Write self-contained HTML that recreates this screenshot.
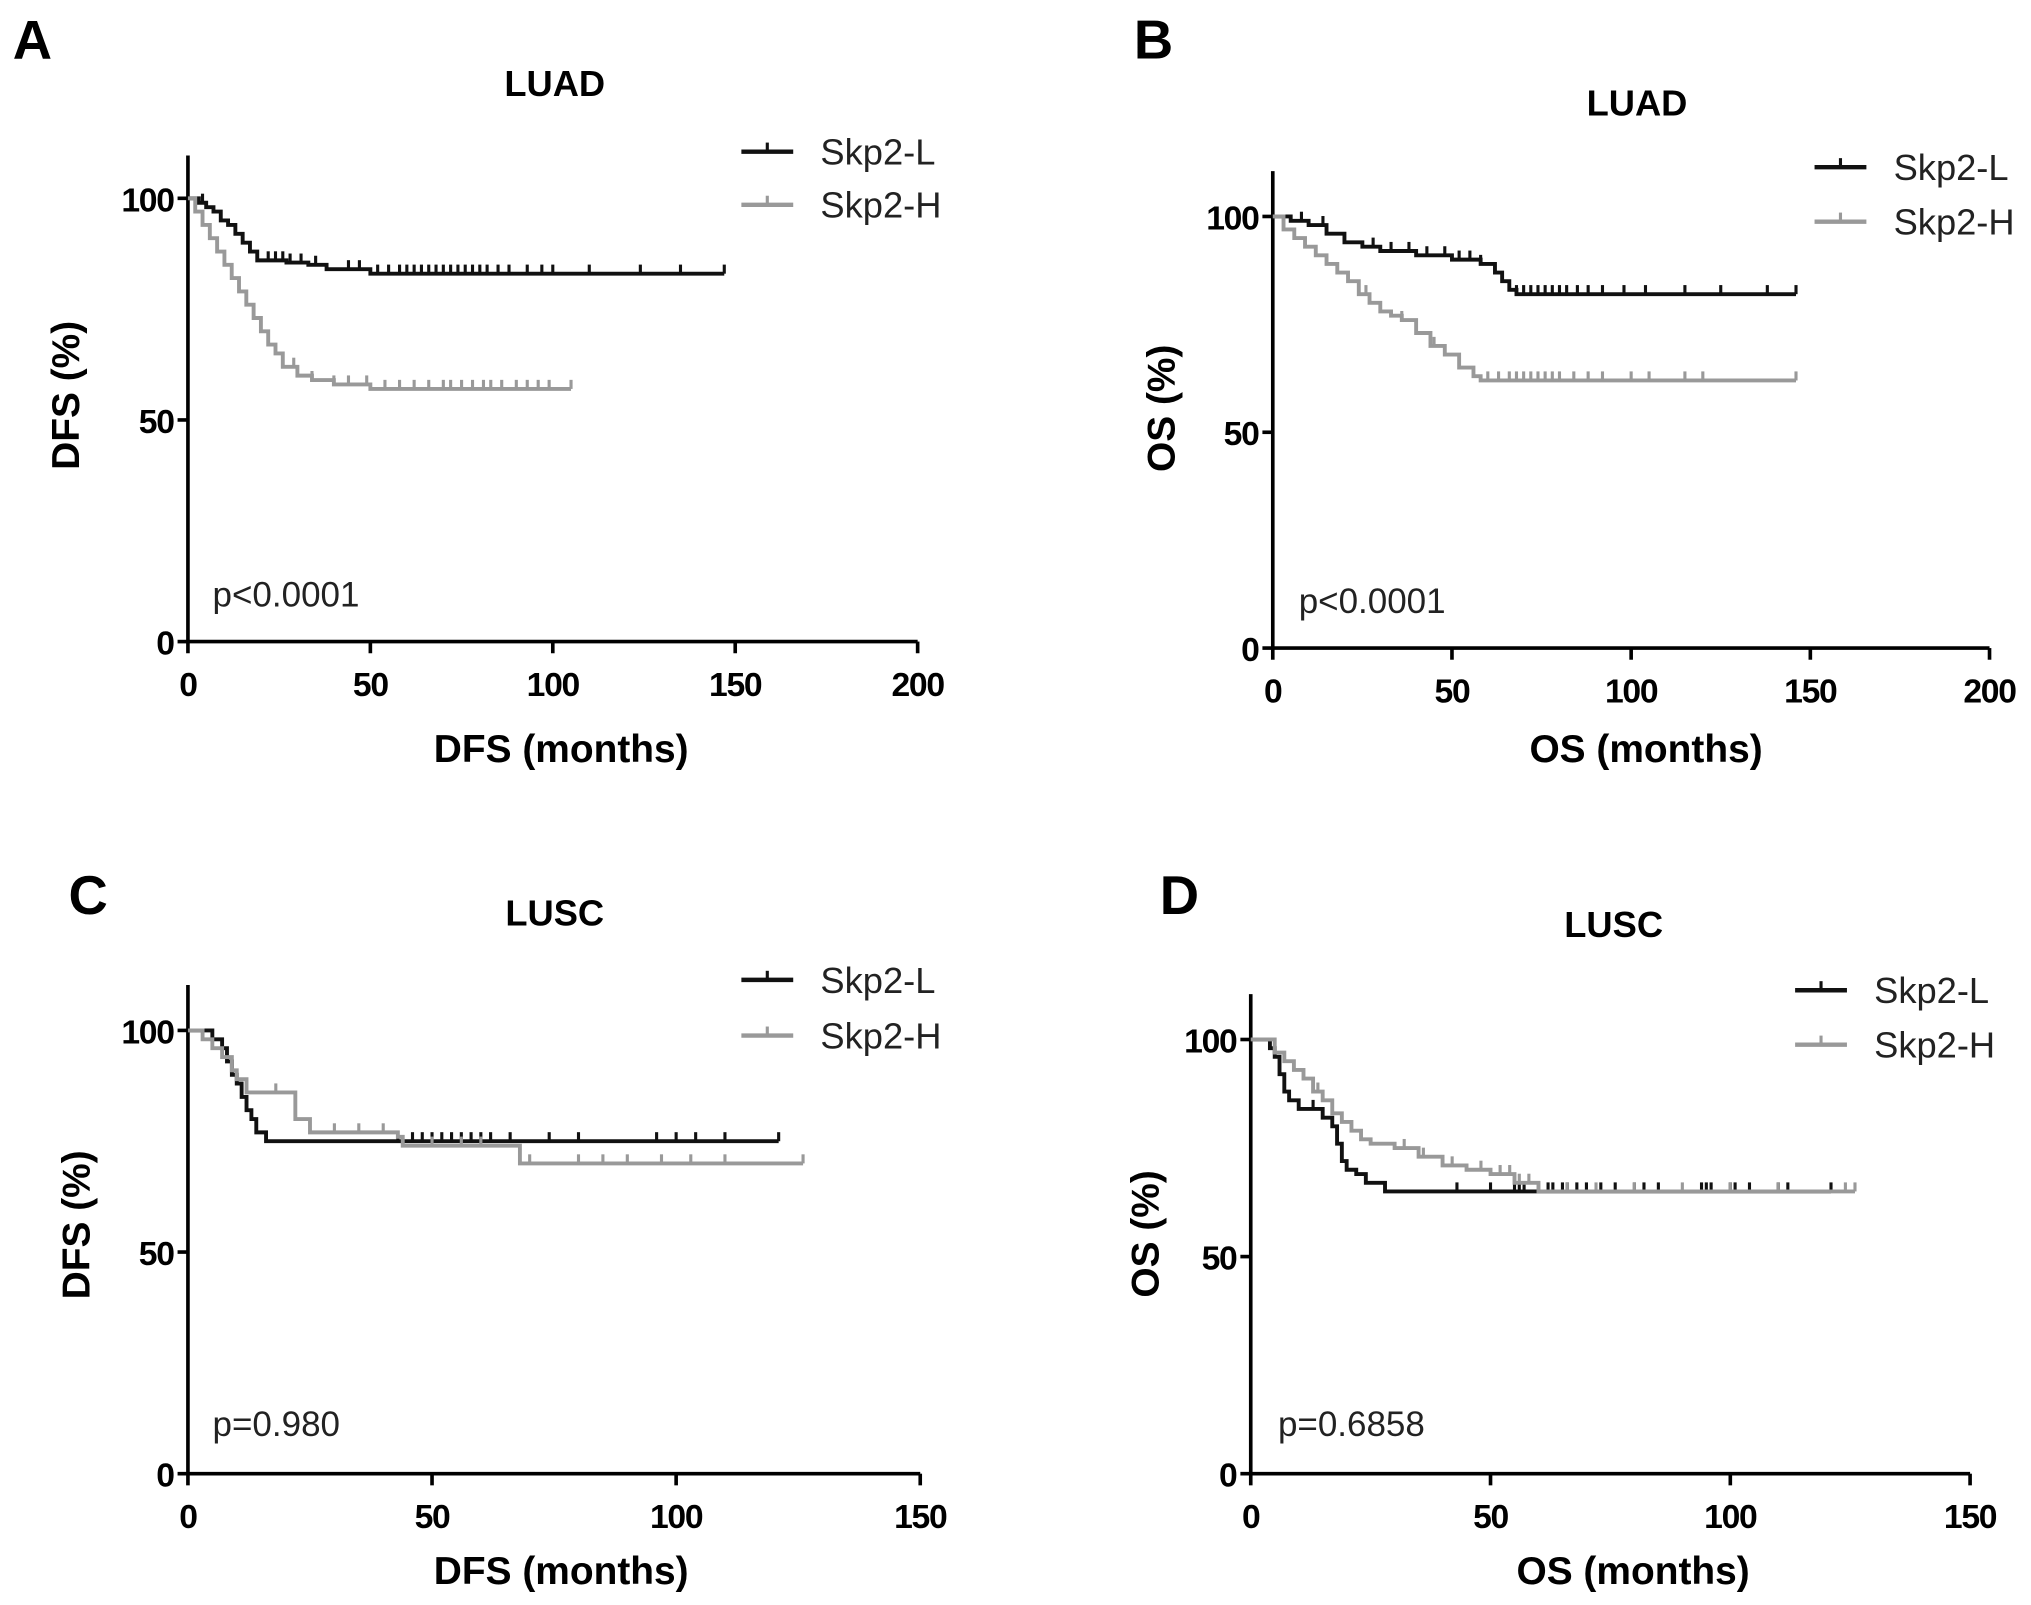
<!DOCTYPE html>
<html><head><meta charset="utf-8"><style>
html,body{margin:0;padding:0;background:#fff;}
svg{display:block;font-family:"Liberation Sans",Arial,sans-serif;}
</style></head><body>
<svg id="fig" width="2031" height="1605" viewBox="0 0 1567 1238.3" xmlns="http://www.w3.org/2000/svg"></svg>
<script>
// ---- data ----
const aL_t=[0,3,5,7,9,11,13,15,17,19,22,27,33,38,50,120];
const aL_s=[100,99,98,97,95,94,92,90,88,86,86,85.5,85,84,83,83];
const aL_end=147;
const aL_c=[4,9,22,24,26,28,31,35,44,47,52,55,58,60,62,64,66,68,70,72,74,76,78,80,82,85,88,93,97,100,110,124,135,147];
const aH_t=[0,2,4,6,8,10,12,14,16,18,20,22,24,26,30,34,40,50];
const aH_s=[100,97,94,91,88,85,82,79,76,73,70,67,65,62,60,59,58,57];
const aH_end=105;
const aH_c=[29,34,40,44,49,54,58,62,66,70,72,75,78,81,83,86,90,93,96,99,105];
const bL_t=[0,5,10,15,20,25,30,40,50,58,62,64,66,68];
const bL_s=[100,99,98,96,94,93,92,91,90,89,87,85,83,82];
const bL_end=146;
const bL_c=[8,14,20,28,33,38,43,48,52,55,58,68,70,72,74,76,78,80,82,85,88,92,98,104,115,125,138,146];
const bH_t=[0,3,6,9,12,15,18,21,24,27,30,33,36,40,44,48,52,56,58];
const bH_s=[100,97,95,93,91,89,87,85,82,80,78,77,76,73,70,68,65,63,62];
const bH_end=146;
const bH_c=[26,36,45,60,63,66,68,70,72,74,76,78,80,84,88,92,100,105,115,120,146];
const cL_t=[0,5,7,8,9,10,11,12,13,14,16];
const cL_s=[100,98,96,93,90,88,85,82,80,77,75];
const cL_end=121;
const cL_c=[12,43,46,48,50,52,54,56,58,60,62,66,74,80,96,100,104,110,121];
const cH_t=[0,3,5,7,9,10,12,20,22,25,43,44,68];
const cH_s=[100,98,96,94,91,89,86,86,80,77,76,74,70];
const cH_end=126;
const cH_c=[18,30,35,40,50,56,60,70,80,85,90,97,103,110,126];
const dL_t=[0,4,5,6,7,8,10,13,15,17,18,19,20,22,24,28];
const dL_s=[100,98,96,92,88,86,84,84,82,80,76,72,70,69,67,65];
const dL_end=121;
const dL_c=[13,28,43,50,55,56,57,60,62,63,65,66,68,70,73,76,80,82,85,94,95,96,100,101,104,110,112,121];
const dH_t=[0,5,7,9,11,13,15,17,19,21,23,25,30,35,40,45,50,55,60];
const dH_s=[100,97,95,93,91,88,86,83,81,79,77,76,75,73,71,70,69,67,65];
const dH_end=126;
const dH_c=[7,11,14,32,36,42,48,52,54,56,58,60,66,72,80,90,100,110,124,126];

const NS="http://www.w3.org/2000/svg";
const svg=document.getElementById('fig');
function el(tag,attrs,parent){const e=document.createElementNS(NS,tag);for(const k in attrs)e.setAttribute(k,attrs[k]);(parent||svg).appendChild(e);return e;}
function txt(s,attrs,parent){const e=el('text',attrs,parent);e.textContent=s;return e;}

function panel(p){
  const g=el('g',{});
  
  
  const sx=v=>p.x0+(v/p.xmax)*(p.x1-p.x0);
  const sy=v=>p.y0-(v/100)*(p.y0-p.y100);
  const t1=txt(p.letter,{x:p.lx,y:p.ly,'font-size':42,'font-weight':'bold','text-anchor':'middle'},g);
  
  
  const t2=txt(p.title,{x:p.tx,y:p.ty,'font-size':28,'font-weight':'bold','text-anchor':'middle'},g);
  
  
  const ax=el('path',{d:`M${p.x0},${p.ytop} V${p.y0} H${p.x1}`,stroke:'#000','stroke-width':2.8,fill:'none'},g);
  
  
  [0,50,100].forEach(v=>{
    el('line',{x1:p.x0-8,x2:p.x0,y1:sy(v),y2:sy(v),stroke:'#000','stroke-width':2.8},g);
    const t=txt(String(v),{x:p.x0-11,y:sy(v)+10,'font-size':26,'font-weight':'bold','text-anchor':'end','letter-spacing':'-1'},g);
    
    
  });
  p.xticks.forEach(v=>{
    el('line',{x1:sx(v),x2:sx(v),y1:p.y0,y2:p.y0+9,stroke:'#000','stroke-width':2.8},g);
    const t=txt(String(v),{x:sx(v),y:p.y0+42,'font-size':26,'font-weight':'bold','text-anchor':'middle','letter-spacing':'-1'},g);
    
    
  });
  const xt=txt(p.xlabel,{x:p.xlx,y:p.xly,'font-size':30,'font-weight':'bold','text-anchor':'middle','xml:space':'preserve'},g);
  
  
  const yt=txt(p.ylabel,{x:0,y:0,'font-size':30,'font-weight':'bold','text-anchor':'middle',transform:`translate(${p.ylx},${p.yly}) rotate(-90)`},g);
  
  
  const pt=txt(p.pval,{x:p.px,y:p.py,'font-size':27,fill:'#222'},g);
  
  
  p.series.forEach((s,i)=>{
    const sv=t=>{let v=s.s[0];for(let k=0;k<s.t.length;k++){if(s.t[k]<=t)v=s.s[k];}return v;};
    let d=`M${sx(0)},${sy(s.s[0])}`;
    for(let k=1;k<s.t.length;k++){d+=` H${sx(s.t[k])} V${sy(s.s[k])}`;}
    d+=` H${sx(s.end)}`;
    const path=el('path',{d:d,stroke:s.col,'stroke-width':3,fill:'none'},g);
    
    
    s.c.forEach(c=>{
      const m=el('line',{x1:sx(c),x2:sx(c),y1:sy(sv(c))-7,y2:sy(sv(c)),stroke:s.col,'stroke-width':2.4},g);
      
      
    });
    const ly=p.legy[i];
    const lg=el('g',{},g);
    
    
    el('line',{x1:p.legx,x2:p.legx+40,y1:ly,y2:ly,stroke:s.col,'stroke-width':3.4},lg);
    el('line',{x1:p.legx+20,x2:p.legx+20,y1:ly-7,y2:ly,stroke:s.col,'stroke-width':2.4},lg);
    txt(s.name,{x:p.legx+61,y:ly+10,'font-size':28,fill:'#222'},lg);
  });
}
const BLK='#111', GRY='#999';
panel({id:'a',letter:'A',lx:25,ly:45,title:'LUAD',tx:428,ty:74,x0:145,x1:708,y0:495,y100:153,ytop:120,xmax:200,xticks:[0,50,100,150,200],
  xlabel:'DFS  (months)',xlx:433,xly:588,ylabel:'DFS (%)',ylx:61,yly:305,pval:'p<0.0001',px:164,py:468,legx:572,legy:[117,158],
  series:[{name:'Skp2-L',col:BLK,t:aL_t,s:aL_s,end:aL_end,c:aL_c},{name:'Skp2-H',col:GRY,t:aH_t,s:aH_s,end:aH_end,c:aH_c}]});
panel({id:'b',letter:'B',lx:890,ly:45,title:'LUAD',tx:1263,ty:89,x0:982,x1:1535,y0:500,y100:167,ytop:132,xmax:200,xticks:[0,50,100,150,200],
  xlabel:'OS (months)',xlx:1270,xly:588,ylabel:'OS (%)',ylx:906,yly:315,pval:'p<0.0001',px:1002,py:473,legx:1400,legy:[129,171],
  series:[{name:'Skp2-L',col:BLK,t:bL_t,s:bL_s,end:bL_end,c:bL_c},{name:'Skp2-H',col:GRY,t:bH_t,s:bH_s,end:bH_end,c:bH_c}]});
panel({id:'c',letter:'C',lx:68,ly:705,title:'LUSC',tx:428,ty:714,x0:145,x1:710,y0:1137,y100:795,ytop:760,xmax:150,xticks:[0,50,100,150],
  xlabel:'DFS  (months)',xlx:433,xly:1222,ylabel:'DFS (%)',ylx:69,yly:945,pval:'p=0.980',px:164,py:1108,legx:572,legy:[756,799],
  series:[{name:'Skp2-L',col:BLK,t:cL_t,s:cL_s,end:cL_end,c:cL_c},{name:'Skp2-H',col:GRY,t:cH_t,s:cH_s,end:cH_end,c:cH_c}]});
panel({id:'d',letter:'D',lx:910,ly:705,title:'LUSC',tx:1245,ty:723,x0:965,x1:1520,y0:1137,y100:802,ytop:767,xmax:150,xticks:[0,50,100,150],
  xlabel:'OS (months)',xlx:1260,xly:1222,ylabel:'OS (%)',ylx:894,yly:952,pval:'p=0.6858',px:986,py:1108,legx:1385,legy:[764,806],
  series:[{name:'Skp2-L',col:BLK,t:dL_t,s:dL_s,end:dL_end,c:dL_c},{name:'Skp2-H',col:GRY,t:dH_t,s:dH_s,end:dH_end,c:dH_c}]});
</script>
</body></html>
